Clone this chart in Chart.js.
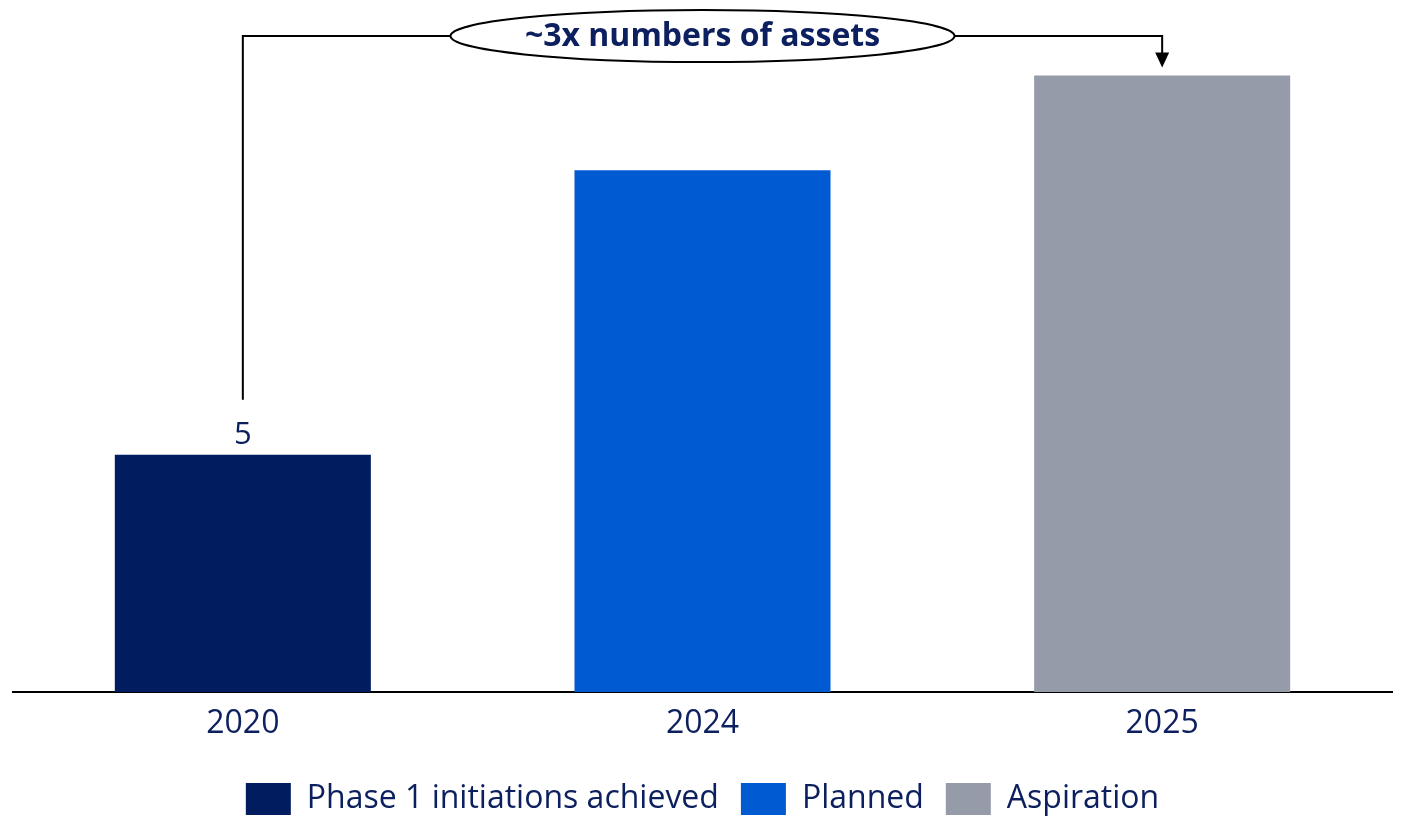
<!DOCTYPE html>
<html>
<head>
<meta charset="utf-8">
<script src="https://cdn.jsdelivr.net/npm/chart.js@4.4.1/dist/chart.umd.min.js"></script>
<style>
  html, body { margin: 0; padding: 0; background: #ffffff; }
  #wrap { width: 1404px; height: 818px; position: relative; }
</style>
</head>
<body>
<div id="wrap"><canvas id="chart"></canvas></div>
<script>
// Data
const years = ["2020", "2024", "2025"];
const assets = [5, 11, 13];
const seriesNames = ["Phase 1 initiations achieved", "Planned", "Aspiration"];
const barColors = ["#021c60", "#005bd3", "#959ba8"];
const calloutText = "~3x numbers of assets";

const textColor = "#0c1f5e";
const fontFamily = "'Open Sans', 'Noto Sans', sans-serif";

// One dataset per year so the legend gets three entries
const datasets = seriesNames.map((name, i) => ({
  label: name,
  data: assets.map((v, j) => (j === i ? v : null)),
  backgroundColor: barColors[i],
  borderWidth: 0,
  barPercentage: 1,
  categoryPercentage: 0.557,
  grouped: false,
}));

// Draws the "5" label and the bracket with the ellipse callout
const calloutPlugin = {
  id: "callout",
  afterDatasetsDraw(chart) {
    const ctx = chart.ctx;
    const x = chart.scales.x;
    const y = chart.scales.y;
    const x0 = x.getPixelForValue(0);
    const x2 = x.getPixelForValue(2);
    const xMid = x.getPixelForValue(1);
    const top0 = y.getPixelForValue(assets[0]);
    const top2 = y.getPixelForValue(assets[2]);
    const lineY = 36;

    ctx.save();
    // value label on first bar
    ctx.fillStyle = textColor;
    ctx.font = "31px " + fontFamily;
    ctx.textAlign = "center";
    ctx.textBaseline = "alphabetic";
    ctx.fillText(String(assets[0]), x0, top0 - 11);

    // bracket
    ctx.strokeStyle = "#000000";
    ctx.lineWidth = 2;
    ctx.beginPath();
    ctx.moveTo(x0, top0 - 55);
    ctx.lineTo(x0, lineY);
    ctx.lineTo(x2, lineY);
    ctx.lineTo(x2, top2 - 20);
    ctx.stroke();
    // arrow head
    ctx.fillStyle = "#000000";
    ctx.beginPath();
    ctx.moveTo(x2 - 7, top2 - 23);
    ctx.lineTo(x2 + 7, top2 - 23);
    ctx.lineTo(x2, top2 - 8);
    ctx.closePath();
    ctx.fill();

    // ellipse
    ctx.fillStyle = "#ffffff";
    ctx.beginPath();
    ctx.ellipse(xMid, lineY, 252, 26, 0, 0, Math.PI * 2);
    ctx.fill();
    ctx.stroke();

    ctx.fillStyle = textColor;
    ctx.font = "bold 32px " + fontFamily;
    ctx.textBaseline = "middle";
    ctx.fillText(calloutText, xMid, lineY + 1);
    ctx.restore();
  },
};

new Chart(document.getElementById("chart"), {
  type: "bar",
  data: { labels: years, datasets: datasets },
  plugins: [calloutPlugin],
  options: {
    responsive: true,
    maintainAspectRatio: false,
    animation: false,
    layout: { padding: { left: 13, right: 12, top: 28, bottom: -7 } },
    plugins: {
      tooltip: { enabled: false },
      legend: {
        position: "bottom",
        labels: {
          color: textColor,
          font: { family: fontFamily, size: 32 },
          boxWidth: 45,
          boxHeight: 32,
          padding: 22,
        },
      },
    },
    scales: {
      x: {
        grid: { display: false, drawTicks: false },
        border: { display: true, color: "#000000", width: 2 },
        ticks: {
          color: textColor,
          font: { family: fontFamily, size: 32 },
          padding: 13,
        },
        afterFit(scale) {
          scale.height = 69;
        },
      },
      y: {
        display: false,
        min: 0,
        max: 14,
      },
    },
  },
});
</script>
</body>
</html>
